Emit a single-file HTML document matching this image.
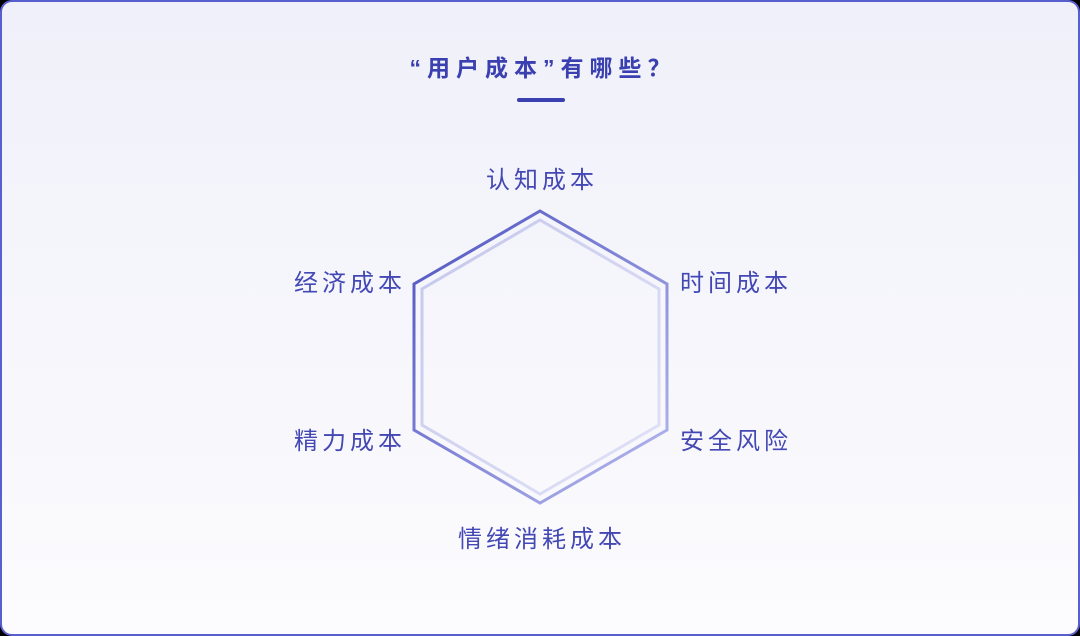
<!DOCTYPE html>
<html><head><meta charset="utf-8"><style>
html,body{margin:0;padding:0;background:#000;}
#card{position:absolute;left:0;top:0;width:1076px;height:632px;border:2px solid #5a5fd0;border-radius:12px;background:linear-gradient(180deg,#f0f0fa 0%,#f7f7fc 60%,#fcfcfe 100%);overflow:hidden;font-family:"Liberation Sans","Noto Sans CJK SC",sans-serif;}
.lbl{position:absolute;font-size:24px;letter-spacing:4px;color:#4448b4;white-space:nowrap;line-height:30px;}
</style></head><body>
<div id="card">
<div style="position:absolute;left:0;width:1082px;top:50px;text-align:center;font-size:23px;font-weight:bold;letter-spacing:6px;color:#3b40b0;line-height:32px;">“用户成本”有哪些？</div>
<div style="position:absolute;left:515px;top:96px;width:48px;height:4px;border-radius:2px;background:#3b40b0;"></div>
<svg width="1076" height="632" style="position:absolute;left:0;top:0">
<defs>
<linearGradient id="g1" x1="0" y1="0" x2="1" y2="1"><stop offset="0" stop-color="#4d52c0"/><stop offset="1" stop-color="#b8bbee"/></linearGradient>
<linearGradient id="g2" x1="0" y1="0" x2="1" y2="1"><stop offset="0" stop-color="#c4c6ec"/><stop offset="1" stop-color="#e2e3f7"/></linearGradient>
</defs>
<polygon points="538,209 665,282 665,428 538,501 412,428 412,282" fill="none" stroke="url(#g1)" stroke-width="3"/>
<polygon points="538,218 657,287 657,423 538,492 420,423 420,287" fill="none" stroke="url(#g2)" stroke-width="3"/>
</svg>
<div class="lbl" style="left:0;width:1080px;text-align:center;top:164px;">认知成本</div>
<div class="lbl" style="left:678px;top:267px;">时间成本</div>
<div class="lbl" style="left:292px;top:267px;">经济成本</div>
<div class="lbl" style="left:678px;top:425px;">安全风险</div>
<div class="lbl" style="left:292px;top:425px;">精力成本</div>
<div class="lbl" style="left:0;width:1080px;text-align:center;top:523px;">情绪消耗成本</div>
</div>
</body></html>
